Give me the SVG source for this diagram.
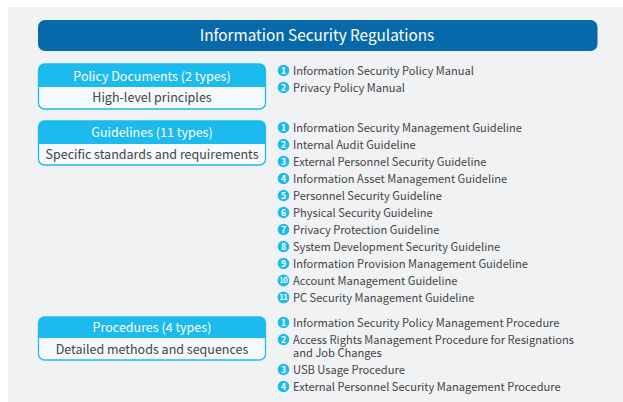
<svg xmlns="http://www.w3.org/2000/svg" width="623" height="402" viewBox="0 0 623 402">
<style>
text{font-family:"Noto Sans CJK KR","Noto Sans",sans-serif}
.title{fill:#fff;font-size:15.3px;text-anchor:middle}
.hd{fill:#1cbbee}
.bd{fill:#f5f9fc;stroke:#1cbbee;stroke-width:1.3}
.ht{fill:#fff;font-size:12.5px;text-anchor:middle}
.bt{fill:#444;font-size:12.5px;text-anchor:middle}
.it{fill:#444;font-size:11.1px}
.nc{fill:#1cbbee}
.nt{fill:#fff;font-size:8.5px;font-weight:bold;text-anchor:middle}
.n2{font-size:7.5px;letter-spacing:-0.6px}
</style>
<rect x="8" y="7" width="615" height="395" fill="#f1f2f4"/>
<g id="title">
<rect x="38" y="20" width="559.5" height="31" rx="7" fill="#0769a9"/>
<text class="title" x="317" y="41">Information Security Regulations</text>
</g>
<g id="policy">
<rect class="bd" x="38.5" y="64" width="227" height="45" rx="6"/>
<path class="hd" d="M38.5,87 V70 a6,6 0 0 1 6,-6 H259.5 a6,6 0 0 1 6,6 V87 Z"/>
<text class="ht" x="152" y="80.5">Policy Documents (2 types)</text>
<text class="bt" x="152" y="102">High-level principles</text>
</g>
<g id="policy-items">
<circle class="nc" cx="283.5" cy="70.5" r="5.8"/><text class="nt" x="283.5" y="73.5">1</text>
<text class="it" x="293" y="75">Information Security Policy Manual</text>
<circle class="nc" cx="283.5" cy="87.5" r="5.8"/><text class="nt" x="283.5" y="90.5">2</text>
<text class="it" x="293" y="92">Privacy Policy Manual</text>
</g>
<g id="guidelines">
<rect class="bd" x="38.5" y="121" width="227" height="44" rx="6"/>
<path class="hd" d="M38.5,144 V127 a6,6 0 0 1 6,-6 H259.5 a6,6 0 0 1 6,6 V144 Z"/>
<text class="ht" x="152" y="137">Guidelines (11 types)</text>
<text class="bt" x="152" y="159">Specific standards and requirements</text>
</g>
<g id="guideline-items">
<circle class="nc" cx="283.5" cy="127.5" r="5.8"/><text class="nt" x="283.5" y="130.5">1</text>
<text class="it" x="293" y="132">Information Security Management Guideline</text>
<circle class="nc" cx="283.5" cy="144.5" r="5.8"/><text class="nt" x="283.5" y="147.5">2</text>
<text class="it" x="293" y="149">Internal Audit Guideline</text>
<circle class="nc" cx="283.5" cy="161.5" r="5.8"/><text class="nt" x="283.5" y="164.5">3</text>
<text class="it" x="293" y="166">External Personnel Security Guideline</text>
<circle class="nc" cx="283.5" cy="178.5" r="5.8"/><text class="nt" x="283.5" y="181.5">4</text>
<text class="it" x="293" y="183">Information Asset Management Guideline</text>
<circle class="nc" cx="283.5" cy="195.5" r="5.8"/><text class="nt" x="283.5" y="198.5">5</text>
<text class="it" x="293" y="200">Personnel Security Guideline</text>
<circle class="nc" cx="283.5" cy="212.5" r="5.8"/><text class="nt" x="283.5" y="215.5">6</text>
<text class="it" x="293" y="217">Physical Security Guideline</text>
<circle class="nc" cx="283.5" cy="229.5" r="5.8"/><text class="nt" x="283.5" y="232.5">7</text>
<text class="it" x="293" y="234">Privacy Protection Guideline</text>
<circle class="nc" cx="283.5" cy="246.5" r="5.8"/><text class="nt" x="283.5" y="249.5">8</text>
<text class="it" x="293" y="251">System Development Security Guideline</text>
<circle class="nc" cx="283.5" cy="263.5" r="5.8"/><text class="nt" x="283.5" y="266.5">9</text>
<text class="it" x="293" y="268">Information Provision Management Guideline</text>
<circle class="nc" cx="283.5" cy="280.5" r="5.9"/><text class="nt n2" x="283.2" y="283.2">10</text>
<text class="it" x="293" y="285">Account Management Guideline</text>
<circle class="nc" cx="283.5" cy="297.5" r="5.9"/><text class="nt n2" x="283.2" y="300.2">11</text>
<text class="it" x="293" y="302">PC Security Management Guideline</text>
</g>
<g id="procedures">
<rect class="bd" x="38.5" y="317" width="227" height="43" rx="6"/>
<path class="hd" d="M38.5,338 V323 a6,6 0 0 1 6,-6 H259.5 a6,6 0 0 1 6,6 V338 Z"/>
<text class="ht" x="152" y="332">Procedures (4 types)</text>
<text class="bt" x="152" y="354">Detailed methods and sequences</text>
</g>
<g id="procedure-items">
<circle class="nc" cx="283.5" cy="322.5" r="5.8"/><text class="nt" x="283.5" y="325.5">1</text>
<text class="it" x="293" y="327">Information Security Policy Management Procedure</text>
<circle class="nc" cx="283.5" cy="339.5" r="5.8"/><text class="nt" x="283.5" y="342.5">2</text>
<text class="it" x="293" y="344"><tspan x="293" y="344">Access Rights Management Procedure for Resignations</tspan><tspan x="293" y="357">and Job Changes</tspan></text>
<circle class="nc" cx="283.5" cy="369.5" r="5.8"/><text class="nt" x="283.5" y="372.5">3</text>
<text class="it" x="293" y="374">USB Usage Procedure</text>
<circle class="nc" cx="283.5" cy="386.5" r="5.8"/><text class="nt" x="283.5" y="389.5">4</text>
<text class="it" x="293" y="391">External Personnel Security Management Procedure</text>
</g>
</svg>
